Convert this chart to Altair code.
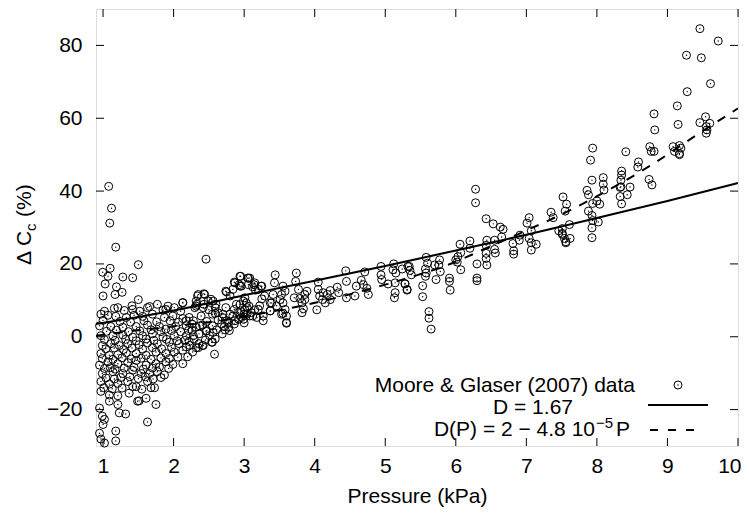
import altair as alt
import pandas as pd

FONT = "Liberation Sans"
x_ticks = [1, 2, 3, 4, 5, 6, 7, 8, 9, 10]
y_ticks = [-20, 0, 20, 40, 60, 80]
x_title = "Pressure (kPa)"
y_title_parts = ["Δ", "C", "c", "(%)"]
legend_labels = ["Moore & Glaser (2007) data", "D = 1.67", "D(P) = 2 − 4.8 10", "−5", "P"]

# ---- data (pressure kPa, delta Cc %) ----
low_cloud = [
    (1.21, 8.0), (1.42, 7.5), (1.63, 8.0), (1.77, 8.9), (1.92, 8.4), (2.32, 8.4), (2.43, 8.9), (2.6, 8.9), (2.74, 8.0), (2.86, 7.5), (3.07, 8.4),
    (0.97, 6.2), (1.07, 5.9), (1.18, 5.6), (1.33, 5.3), (1.44, 5.9), (1.56, 5.6), (1.70, 6.2), (1.87, 5.3), (1.99, 5.7), (2.13, 5.0), (2.22, 5.3), (2.39, 5.7), (2.55, 6.2), (2.69, 5.3), (2.84, 5.7), (3.0, 6.2), (3.12, 5.7),
    (0.95, 3.0), (1.11, 2.8), (1.28, 2.6), (1.47, 2.8), (1.63, 3.2), (1.8, 2.8), (1.89, 2.1), (2.03, 2.8), (2.18, 3.0), (2.32, 2.6), (2.41, 3.2), (2.55, 3.0), (2.72, 2.8), (2.86, 3.5), (3.0, 3.8),
    (0.97, 0.3), (1.14, 0.3), (1.28, 0.5), (1.42, -0.1), (1.56, 0.3), (1.7, 0.8), (1.85, -0.1), (2.01, 0.3), (2.18, 0.3), (2.36, 0.8), (2.51, 0.3), (2.69, 0.8), (2.79, 1.7),
    (0.99, -2.4), (1.11, -1.9), (1.23, -2.4), (1.35, -1.9), (1.51, -2.2), (1.63, -1.7), (1.77, -1.9), (1.94, -1.5), (2.08, -1.9), (2.22, -1.3), (2.36, -1.9), (2.55, -1.5),
    (0.97, -4.6), (1.09, -5.1), (1.21, -4.9), (1.33, -4.4), (1.47, -4.6), (1.61, -5.1), (1.75, -4.2), (1.89, -4.6), (2.01, -4.2), (2.13, -3.7), (2.27, -4.2), (2.41, -2.4), (2.58, -4.8),
    (0.95, -7.8), (1.07, -6.9), (1.21, -7.4), (1.35, -7.1), (1.47, -6.5), (1.61, -7.8), (1.75, -7.4), (1.89, -6.9), (1.99, -7.6), (2.13, -7.4),
    (0.99, -10.1), (1.14, -9.6), (1.28, -10.1), (1.42, -9.2), (1.54, -10.1), (1.66, -10.1), (1.77, -9.6), (1.87, -10.5),
    (0.97, -12.3), (1.09, -13.0), (1.21, -12.8), (1.35, -12.3), (1.47, -13.7), (1.63, -12.3), (1.73, -14.0),
    (0.97, -15.0), (1.09, -16.0), (1.21, -16.2), (1.37, -15.5), (1.51, -17.6), (1.61, -16.9), (1.75, -18.6),
    (0.95, -19.6), (1.09, -17.7), (1.21, -18.6), (1.32, -21.2), (1.23, -20.9), (1.49, -17.7), (1.63, -23.4),
    (0.99, -21.8), (1.02, -22.7), (1.0, -24.1), (1.18, -25.9), (0.97, -28.1), (1.18, -28.6), (1.02, -29.2), (0.95, -26.5),
]
low_cloud_extra = [
    (1.02, 7.0), (1.3, 7.2), (1.52, 7.0), (1.85, 7.3), (2.1, 7.0), (2.5, 7.4), (2.95, 7.1),
    (1.0, 4.5), (1.24, 4.2), (1.39, 4.0), (1.58, 4.4), (1.76, 4.1), (1.95, 4.4), (2.07, 4.0), (2.28, 4.4), (2.47, 4.2), (2.63, 4.6), (2.78, 4.0), (2.92, 4.8),
    (1.05, 1.5), (1.19, 1.8), (1.36, 1.4), (1.52, 1.6), (1.68, 1.9), (1.82, 1.4), (1.97, 1.7), (2.1, 1.4), (2.26, 1.8), (2.46, 1.5), (2.61, 1.9),
    (1.02, -0.8), (1.17, -1.0), (1.32, -0.7), (1.47, -1.1), (1.61, -0.6), (1.72, -1.0), (1.9, -0.7), (2.05, -1.1), (2.29, -0.6), (2.45, -0.9),
    (1.04, -3.3), (1.16, -3.1), (1.29, -3.5), (1.41, -3.1), (1.56, -3.4), (1.7, -3.0), (1.83, -3.3), (1.97, -2.9), (2.18, -2.8), (2.32, -3.0),
    (0.99, -6.0), (1.14, -6.2), (1.27, -5.8), (1.4, -6.1), (1.54, -5.9), (1.68, -6.2), (1.82, -5.8), (1.94, -6.0), (2.06, -5.6), (2.2, -5.5),
    (1.02, -8.7), (1.1, -8.5), (1.17, -8.9), (1.3, -8.6), (1.44, -8.4), (1.57, -8.9), (1.7, -8.6), (1.8, -8.3), (1.93, -8.7),
    (1.04, -11.3), (1.16, -11.6), (1.25, -11.2), (1.38, -11.0), (1.5, -11.5), (1.6, -11.0), (1.71, -11.6), (1.82, -11.2),
    (1.01, -14.0), (1.13, -14.3), (1.27, -14.1), (1.42, -13.7), (1.55, -14.4), (1.68, -14.0),
]
upper_left = [
    (1.08, 41.3), (1.12, 35.3), (1.095, 31.2), (1.18, 24.6), (1.5, 19.8), (2.46, 21.3), (0.995, 17.7), (1.07, 16.6), (1.10, 18.8),
    (1.28, 16.4), (1.42, 16.2), (1.03, 14.5), (1.19, 13.7), (1.27, 12.2), (1.17, 11.6), (1.0, 11.2), (1.5, 10.2), (1.41, 8.5),
    (1.16, 7.8), (1.66, 8.3), (1.89, 7.5), (2.01, 8.0), (2.13, 9.4), (2.34, 11.2), (2.43, 11.8), (2.32, 9.8), (2.53, 10.3),
    (2.74, 12.5), (2.86, 15.0), (2.95, 16.6), (3.05, 16.1), (2.93, 14.3), (2.84, 13.0), (3.12, 13.7),
]
mid_left = [
    (2.94, 16.6), (3.06, 16.1), (2.87, 14.8), (2.94, 13.9), (3.14, 14.3), (3.24, 13.9), (3.16, 12.8), (2.75, 12.3), (2.8, 11.2),
    (2.35, 11.6), (2.44, 11.6), (2.56, 9.8), (2.49, 9.8), (2.33, 8.9), (2.13, 9.3), (2.3, 8.0), (2.42, 8.0), (2.59, 8.0),
    (2.63, 6.6), (2.59, 6.4), (2.7, 6.2), (2.8, 6.2), (2.75, 4.4), (2.68, 3.5), (2.78, 2.6), (2.73, 1.9), (2.56, 1.2),
    (2.59, -0.6), (2.54, -1.5), (2.42, -2.4), (2.35, -3.0), (2.18, 4.4), (2.26, 3.5), (2.37, 3.0), (2.47, 1.7), (2.21, 1.7),
    (2.28, 0.3), (2.16, -1.0), (2.23, -2.4), (2.99, 9.8), (3.04, 8.0), (3.2, 7.5), (3.27, 5.7), (3.37, 7.1), (3.46, 8.5),
    (3.53, 6.2), (3.6, 3.9), (3.51, 10.2), (3.37, 9.3), (2.89, 8.9), (2.92, 6.6), (2.96, 5.3), (2.87, 4.4), (3.08, 5.7), (3.18, 5.3),
]
mid = [
    (4.44, 18.1), (4.94, 19.3), (5.12, 20.0), (5.11, 18.4), (5.15, 17.5), (5.34, 19.3), (4.71, 17.8), (4.94, 17.0), (4.95, 15.7),
    (5.04, 14.5), (5.14, 14.8), (5.28, 14.5), (5.31, 13.0), (5.14, 12.1), (5.13, 10.7), (4.74, 13.3), (4.76, 11.6), (4.66, 15.5),
    (4.69, 14.3), (4.59, 13.9), (4.57, 11.2), (4.45, 10.7), (4.45, 15.2), (4.32, 13.6), (4.34, 12.1), (4.22, 12.7), (4.18, 11.6),
    (4.12, 12.1), (4.07, 11.2), (4.05, 13.0), (4.11, 10.2), (4.03, 7.4), (4.15, 9.3), (4.22, 10.2), (4.05, 15.0), (3.89, 12.5),
    (3.86, 11.6), (3.86, 10.2), (3.82, 9.3), (3.84, 7.7), (3.82, 6.6), (3.74, 17.5), (3.73, 15.2), (3.77, 13.0), (3.71, 10.7),
    (3.79, 10.5), (3.55, 13.9), (3.58, 12.5), (3.53, 11.6), (3.55, 9.3), (3.58, 7.5), (3.6, 5.7), (3.6, 3.7), (3.55, 6.4),
    (3.44, 17.0), (3.43, 14.8), (3.41, 11.6), (3.39, 9.3), (3.37, 7.1), (3.29, 11.2), (3.25, 13.9), (3.15, 14.8), (3.2, 13.0),
    (3.25, 10.4), (3.22, 8.5), (3.27, 4.4), (3.15, 7.4), (3.08, 16.1), (3.06, 14.3), (2.96, 13.9), (3.01, 10.7), (3.03, 9.3),
    (3.01, 7.5), (3.04, 6.2), (2.99, 4.8), (3.1, 6.6), (2.94, 8.8),
]
mid_right = [
    (6.28, 40.5), (6.28, 36.8), (6.43, 32.4), (6.53, 31.0), (6.63, 30.1), (6.67, 29.5), (7.04, 32.7), (7.01, 31.2), (7.52, 38.4),
    (7.57, 36.4), (7.55, 34.5), (7.35, 34.2), (7.38, 32.7), (7.46, 29.1), (7.51, 28.1), (7.54, 27.0), (7.56, 25.8), (7.07, 29.1),
    (6.91, 27.9), (6.9, 26.5), (7.04, 27.0), (7.07, 25.8), (7.14, 25.4), (7.07, 23.8), (6.81, 25.6), (6.82, 23.6), (6.82, 22.7),
    (6.65, 27.4), (6.55, 26.5), (6.44, 26.5), (6.43, 25.1), (6.55, 24.0), (6.56, 23.0), (6.43, 22.9), (6.43, 21.5), (6.44, 19.7),
    (6.3, 20.0), (6.2, 26.3), (6.2, 24.3), (6.06, 25.4), (6.07, 23.1), (6.03, 22.0), (6.07, 18.4), (6.0, 21.1), (6.02, 20.5),
    (6.3, 16.1), (6.3, 15.4), (5.91, 16.1), (5.91, 15.2), (5.92, 12.8), (5.77, 21.1), (5.76, 19.7), (5.70, 19.7), (5.78, 17.9),
    (5.72, 15.7), (5.58, 21.8), (5.6, 20.2), (5.57, 18.6), (5.58, 17.5), (5.57, 16.6), (5.53, 14.0), (5.53, 11.0), (5.32, 19.3),
    (5.35, 18.2), (5.37, 17.0), (5.28, 14.6), (5.31, 12.8), (5.24, 18.6), (5.62, 6.9), (5.62, 5.1), (5.65, 2.1),
]
right = [
    (7.91, 48.5), (8.59, 48.0), (8.58, 46.6), (7.93, 43.0), (8.09, 43.7), (8.09, 41.9), (8.1, 40.3), (8.35, 45.5), (8.35, 44.4),
    (8.34, 43.0), (8.34, 41.2), (8.47, 41.1), (8.33, 41.0), (8.33, 38.5), (8.43, 39.0), (8.35, 36.5), (8.74, 43.2), (8.78, 41.7),
    (7.86, 40.2), (7.88, 39.0), (7.94, 36.6), (8.0, 37.3), (8.04, 36.4), (7.88, 34.5), (7.93, 33.3), (8.02, 31.5), (7.94, 31.9),
    (7.93, 29.9), (7.93, 27.2), (7.61, 30.8), (7.51, 29.7), (7.51, 28.4), (7.62, 27.0), (7.56, 26.1),
]
top_right = [
    (9.46, 84.6), (9.72, 81.2), (9.27, 77.3), (9.48, 76.6), (9.61, 69.5), (9.28, 67.3), (9.14, 63.4), (8.81, 61.2), (9.15, 58.3),
    (8.82, 56.8), (9.54, 60.4), (9.46, 58.8), (9.6, 58.6), (9.55, 57.7), (9.56, 56.8), (9.55, 55.9), (7.94, 51.8), (8.41, 50.8),
    (8.75, 52.2), (8.77, 50.9), (8.81, 50.9), (9.08, 52.2), (9.1, 50.9), (9.17, 52.5), (9.19, 51.8), (9.17, 50.3), (9.17, 50.0),
]

# fitted curves
solid_P = [0.9, 2.0, 3.0, 4.0, 5.0, 6.0, 7.0, 8.0, 9.0, 10.0]
solid_dC = [3.5, 7.2, 11.4, 15.4, 19.4, 23.7, 28.0, 32.6, 37.3, 42.2]
dash_P = [0.9, 1.5, 2.0, 2.66, 3.22, 4.07, 4.83, 5.4, 5.91, 6.43, 6.91, 7.52, 8.23, 8.75, 9.46, 10.0]
dash_dC = [0.3, 1.8, 2.9, 4.4, 6.3, 9.6, 13.4, 16.6, 19.9, 24.3, 28.4, 33.8, 41.0, 46.9, 56.0, 62.7]

W, H = 642, 437
xs = alt.Scale(domain=[0.9, 10], nice=False, zero=False)
ys = alt.Scale(domain=[-30, 90], nice=False, zero=False)

x_axis = alt.Axis(values=x_ticks, ticks=False, domain=False, grid=False, labelFont=FONT,
                  labelFontSize=21, labelColor="black", labelPadding=9, labelFlush=True,
                  labelFlushOffset=3,
                  title=x_title, titleFont=FONT, titleFontSize=21, titleFontWeight="normal",
                  titleColor="black", titlePadding=9)
y_axis = alt.Axis(values=y_ticks, ticks=False, domain=False, grid=False, labelFont=FONT,
                  labelFontSize=21, labelColor="black", labelPadding=14, labelFlush=False, title=None)

X = alt.X("P:Q", scale=xs, axis=x_axis)
Y = alt.Y("dC:Q", scale=ys, axis=y_axis)

pts = low_cloud + low_cloud_extra + upper_left + mid_left + mid + mid_right + right + top_right
df = pd.DataFrame(pts, columns=["P", "dC"])

circles = alt.Chart(df).mark_point(shape="circle", filled=False, size=64, strokeWidth=1,
                                   color="black", opacity=1).encode(x=X, y=Y)
dots = alt.Chart(df).mark_circle(size=2, color="black", opacity=1).encode(x=X, y=Y)

solid = alt.Chart(pd.DataFrame({"P": solid_P, "dC": solid_dC})).mark_line(
    color="black", strokeWidth=2, clip=True, interpolate="monotone").encode(x=X, y=Y)
dashed = alt.Chart(pd.DataFrame({"P": dash_P, "dC": dash_dC})).mark_line(
    color="black", strokeWidth=2, strokeDash=[9, 9], clip=True, interpolate="monotone").encode(x=X, y=Y)

xt = pd.DataFrame({"P": x_ticks})
yt = pd.DataFrame({"dC": y_ticks})
tick_b = alt.Chart(xt).mark_rule(color="black", strokeWidth=1).encode(x=X, y=alt.value(H), y2=alt.value(H - 8))
tick_t = alt.Chart(xt).mark_rule(color="black", strokeWidth=1).encode(x=X, y=alt.value(0), y2=alt.value(8))
tick_l = alt.Chart(yt).mark_rule(color="black", strokeWidth=1).encode(y=Y, x=alt.value(0), x2=alt.value(8))
tick_r = alt.Chart(yt).mark_rule(color="black", strokeWidth=1).encode(y=Y, x=alt.value(W), x2=alt.value(W - 8))

one = pd.DataFrame({"k": [0]})


def txt(s, x, y, align="left", size=21, angle=0):
    return alt.Chart(one).mark_text(text=s, align=align, baseline="middle", font=FONT,
                                    fontSize=size, angle=angle, color="black").encode(
        x=alt.value(x), y=alt.value(y))


legend = [
    txt(legend_labels[0], 539, 377, align="right"),
    alt.Chart(one).mark_point(shape="circle", filled=False, size=64, strokeWidth=1, color="black",
                              opacity=1).encode(x=alt.value(582), y=alt.value(376)),
    alt.Chart(one).mark_circle(size=2, color="black", opacity=1).encode(x=alt.value(582), y=alt.value(376)),
    txt(legend_labels[1], 477, 399, align="right"),
    alt.Chart(one).mark_rule(color="black", strokeWidth=2).encode(x=alt.value(552), x2=alt.value(612), y=alt.value(396)),
    txt(legend_labels[2], 499, 421, align="right"),
    txt(legend_labels[3], 500, 414, align="left", size=15),
    txt(legend_labels[4], 520, 421, align="left"),
    alt.Chart(one).mark_rule(color="black", strokeWidth=2, strokeDash=[8, 10]).encode(
        x=alt.value(554), x2=alt.value(602), y=alt.value(421)),
]

ytitle = [
    txt(y_title_parts[0], -71, 256, angle=270),
    txt(y_title_parts[1], -71, 237, angle=270),
    txt(y_title_parts[2], -65, 222, size=15, angle=270),
    txt(y_title_parts[3], -71, 208, angle=270),
]

chart = alt.layer(tick_b, tick_t, tick_l, tick_r, solid, dashed, circles, dots, *legend, *ytitle).properties(
    width=W, height=H,
    padding={"left": 88, "top": 1, "right": 3, "bottom": 61},
    autosize=alt.AutoSizeParams(type="none"),
).configure_view(stroke="black", strokeWidth=2).configure(background="white")

chart.save("out.html", embed_options={"renderer": "svg", "actions": False})
